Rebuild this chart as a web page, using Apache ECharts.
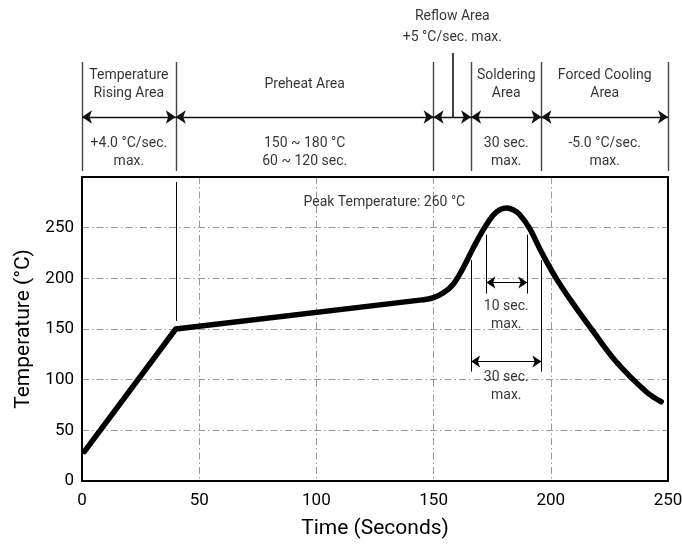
<!DOCTYPE html>
<html><head><meta charset="utf-8">
<script src="https://cdn.jsdelivr.net/npm/echarts@6/dist/echarts.min.js"></script>
<style>html,body{margin:0;padding:0;background:#fff;overflow:hidden}#c{width:682px;height:548px}</style>
</head><body><div id="c"></div>
<script>
const FONT = "Roboto, 'Liberation Sans', sans-serif";
// ---- data ----
const xTickValues = [0, 50, 100, 150, 200, 250];
const yTickValues = [0, 50, 100, 150, 200, 250];
const rampPoints = [[1, 29], [40, 150], [146, 179]];
const reflowPoints = [[146, 179], [150, 181], [154, 185.5], [158.3, 194], [162.5, 209.8],
  [166.8, 229.5], [171.1, 247.5], [175.3, 262], [178.5, 268], [181.3, 269.5], [184, 267.5], [186.7, 263],
  [191, 249], [196, 226], [202.3, 200], [209.5, 175], [217.5, 149.5], [227.9, 117.7], [240.7, 88.1],
  [247.1, 78.2]];
const areaBounds = [0, 40, 150, 166, 196, 250];
const reflowMarker = 158;
const areaNames = ['Temperature\nRising Area', 'Preheat Area', '', 'Soldering\nArea', 'Forced Cooling\nArea'];
const areaSpecs = ['+4.0 °C/sec.\nmax.', '150 ~ 180 °C\n60 ~ 120 sec.', '', '30 sec.\nmax.', '-5.0 °C/sec.\nmax.'];
const reflowTitle = ['Reflow Area', '+5 °C/sec. max.'];
const peakLabel = 'Peak Temperature: 260 °C';
const peakLabelAt = [129, 275];
const guideLines = [[[40, 158], [40, 295]], [[166, 108], [166, 218]], [[172.5, 185], [172.5, 243]],
  [[190, 185], [190, 243]], [[196, 108], [196, 218]]];
const spanArrows = [[[172.5, 196], [190, 196]], [[166, 118], [196, 118]]];
const spanLabels = [[181, 163, '10 sec.\nmax.'], [181, 93, '30 sec.\nmax.']];
// header rows (top band axis, 0 at top)
const headerRows = { reflow1: 16, reflow2: 37, markerTop: 53, dividerTop: 62, name: 84, arrow: 117, spec: 152.5, bottom: 171 };

// ---- build ----
const dividerData = areaBounds.map(b => ({ coords: [[b, headerRows.dividerTop], [b, headerRows.bottom]] }));
dividerData.push({ coords: [[reflowMarker, headerRows.markerTop], [reflowMarker, headerRows.arrow]], lineStyle: { color: '#111', width: 1.6 } });
const arrowData = [];
for (let i = 0; i < areaBounds.length - 1; i++) {
  arrowData.push({ coords: [[areaBounds[i], headerRows.arrow], [areaBounds[i + 1], headerRows.arrow]] });
}
const headerTexts = [];
for (let i = 0; i < areaBounds.length - 1; i++) {
  const cx = (areaBounds[i] + areaBounds[i + 1]) / 2;
  if (areaNames[i]) headerTexts.push({ value: [cx, headerRows.name], name: areaNames[i] });
  if (areaSpecs[i]) headerTexts.push({ value: [cx, headerRows.spec], name: areaSpecs[i] });
}
headerTexts.push({ value: [reflowMarker, headerRows.reflow1], name: reflowTitle[0] });
headerTexts.push({ value: [reflowMarker, headerRows.reflow2], name: reflowTitle[1] });

const textLabel = (size) => ({ show: true, position: 'inside', formatter: '{b}', color: '#000', fontSize: size, lineHeight: size + 4, fontFamily: FONT });
const frameAxis = { show: true, axisLine: { show: true, onZero: false, lineStyle: { color: '#000', width: 2 } },
  axisTick: { show: false }, axisLabel: { show: false }, splitLine: { show: false } };
const gridLineStyle = { show: true, lineStyle: { color: '#9a9a9a', width: 1, type: [7, 3, 1.5, 3] } };

const chart = echarts.init(document.getElementById('c'), null, { renderer: 'canvas' });
chart.setOption({
  animation: false,
  backgroundColor: '#fff',
  grid: [
    { left: 82, right: 14, top: 177, bottom: 67, show: false, outerBoundsMode: 'none', containLabel: false },
    { left: 82, right: 14, top: 0, height: 171, show: false, outerBoundsMode: 'none', containLabel: false }
  ],
  xAxis: [
    { type: 'value', min: 0, max: 250, interval: 50, gridIndex: 0, position: 'bottom',
      name: 'Time (Seconds)', nameLocation: 'middle', nameGap: 37,
      nameTextStyle: { fontSize: 21, fontFamily: FONT, color: '#000' },
      axisLine: { onZero: false, lineStyle: { color: '#000', width: 2 } }, axisTick: { show: false },
      axisLabel: { fontSize: 17, fontFamily: FONT, color: '#000', margin: 11,
        formatter: v => xTickValues.includes(v) ? String(v) : '' },
      splitLine: gridLineStyle },
    { type: 'value', min: 0, max: 250, gridIndex: 1, show: false },
    Object.assign({ type: 'value', min: 0, max: 250, gridIndex: 0, position: 'top' }, frameAxis)
  ],
  yAxis: [
    { type: 'value', min: 0, max: 300, interval: 50, gridIndex: 0, position: 'left',
      name: 'Temperature (°C)', nameLocation: 'middle', nameGap: 48, nameRotate: 90,
      nameTextStyle: { fontSize: 21, fontFamily: FONT, color: '#000' },
      axisLine: { onZero: false, lineStyle: { color: '#000', width: 2 } }, axisTick: { show: false },
      axisLabel: { fontSize: 17, fontFamily: FONT, color: '#000', margin: 8,
        formatter: v => yTickValues.includes(v) ? String(v) : '' },
      splitLine: gridLineStyle },
    { type: 'value', min: 0, max: headerRows.bottom, inverse: true, gridIndex: 1, show: false },
    Object.assign({ type: 'value', min: 0, max: 300, gridIndex: 0, position: 'right' }, frameAxis)
  ],
  series: [
    { type: 'line', xAxisIndex: 0, yAxisIndex: 0, data: rampPoints, showSymbol: false, z: 5,
      lineStyle: { color: '#000', width: 5.5, cap: 'round', join: 'round' } },
    { type: 'line', xAxisIndex: 0, yAxisIndex: 0, data: reflowPoints, showSymbol: false, smooth: 0.4, z: 5,
      lineStyle: { color: '#000', width: 5.5, cap: 'round', join: 'round' } },
    { type: 'lines', coordinateSystem: 'cartesian2d', xAxisIndex: 0, yAxisIndex: 0, symbol: 'none', z: 4,
      lineStyle: { color: '#000', width: 1, opacity: 1 }, data: guideLines.map(c => ({ coords: c })) },
    { type: 'lines', coordinateSystem: 'cartesian2d', xAxisIndex: 0, yAxisIndex: 0, z: 4,
      symbol: ['arrow', 'arrow'], symbolSize: 9, symbolOffset: [[0, 4.5], [0, 4.5]],
      lineStyle: { color: '#000', width: 1.2, opacity: 1 }, itemStyle: { color: '#000' },
      data: spanArrows.map(c => ({ coords: c })) },
    { type: 'scatter', xAxisIndex: 0, yAxisIndex: 0, symbolSize: 1, itemStyle: { color: 'rgba(0,0,0,0)' }, z: 6,
      label: textLabel(14),
      data: [{ value: peakLabelAt, name: peakLabel }].concat(spanLabels.map(s => ({ value: [s[0], s[1]], name: s[2] }))) },
    { type: 'lines', coordinateSystem: 'cartesian2d', xAxisIndex: 1, yAxisIndex: 1, symbol: 'none', clip: false,
      lineStyle: { color: '#444', width: 1.4, opacity: 1 }, data: dividerData },
    { type: 'lines', coordinateSystem: 'cartesian2d', xAxisIndex: 1, yAxisIndex: 1, clip: false,
      symbol: ['arrow', 'arrow'], symbolSize: 10, symbolOffset: [[0, 5], [0, 5]],
      lineStyle: { color: '#111', width: 1.4, opacity: 1 }, itemStyle: { color: '#111' }, data: arrowData },
    { type: 'scatter', xAxisIndex: 1, yAxisIndex: 1, symbolSize: 1, itemStyle: { color: 'rgba(0,0,0,0)' },
      label: textLabel(14), data: headerTexts }
  ]
});
</script></body></html>
